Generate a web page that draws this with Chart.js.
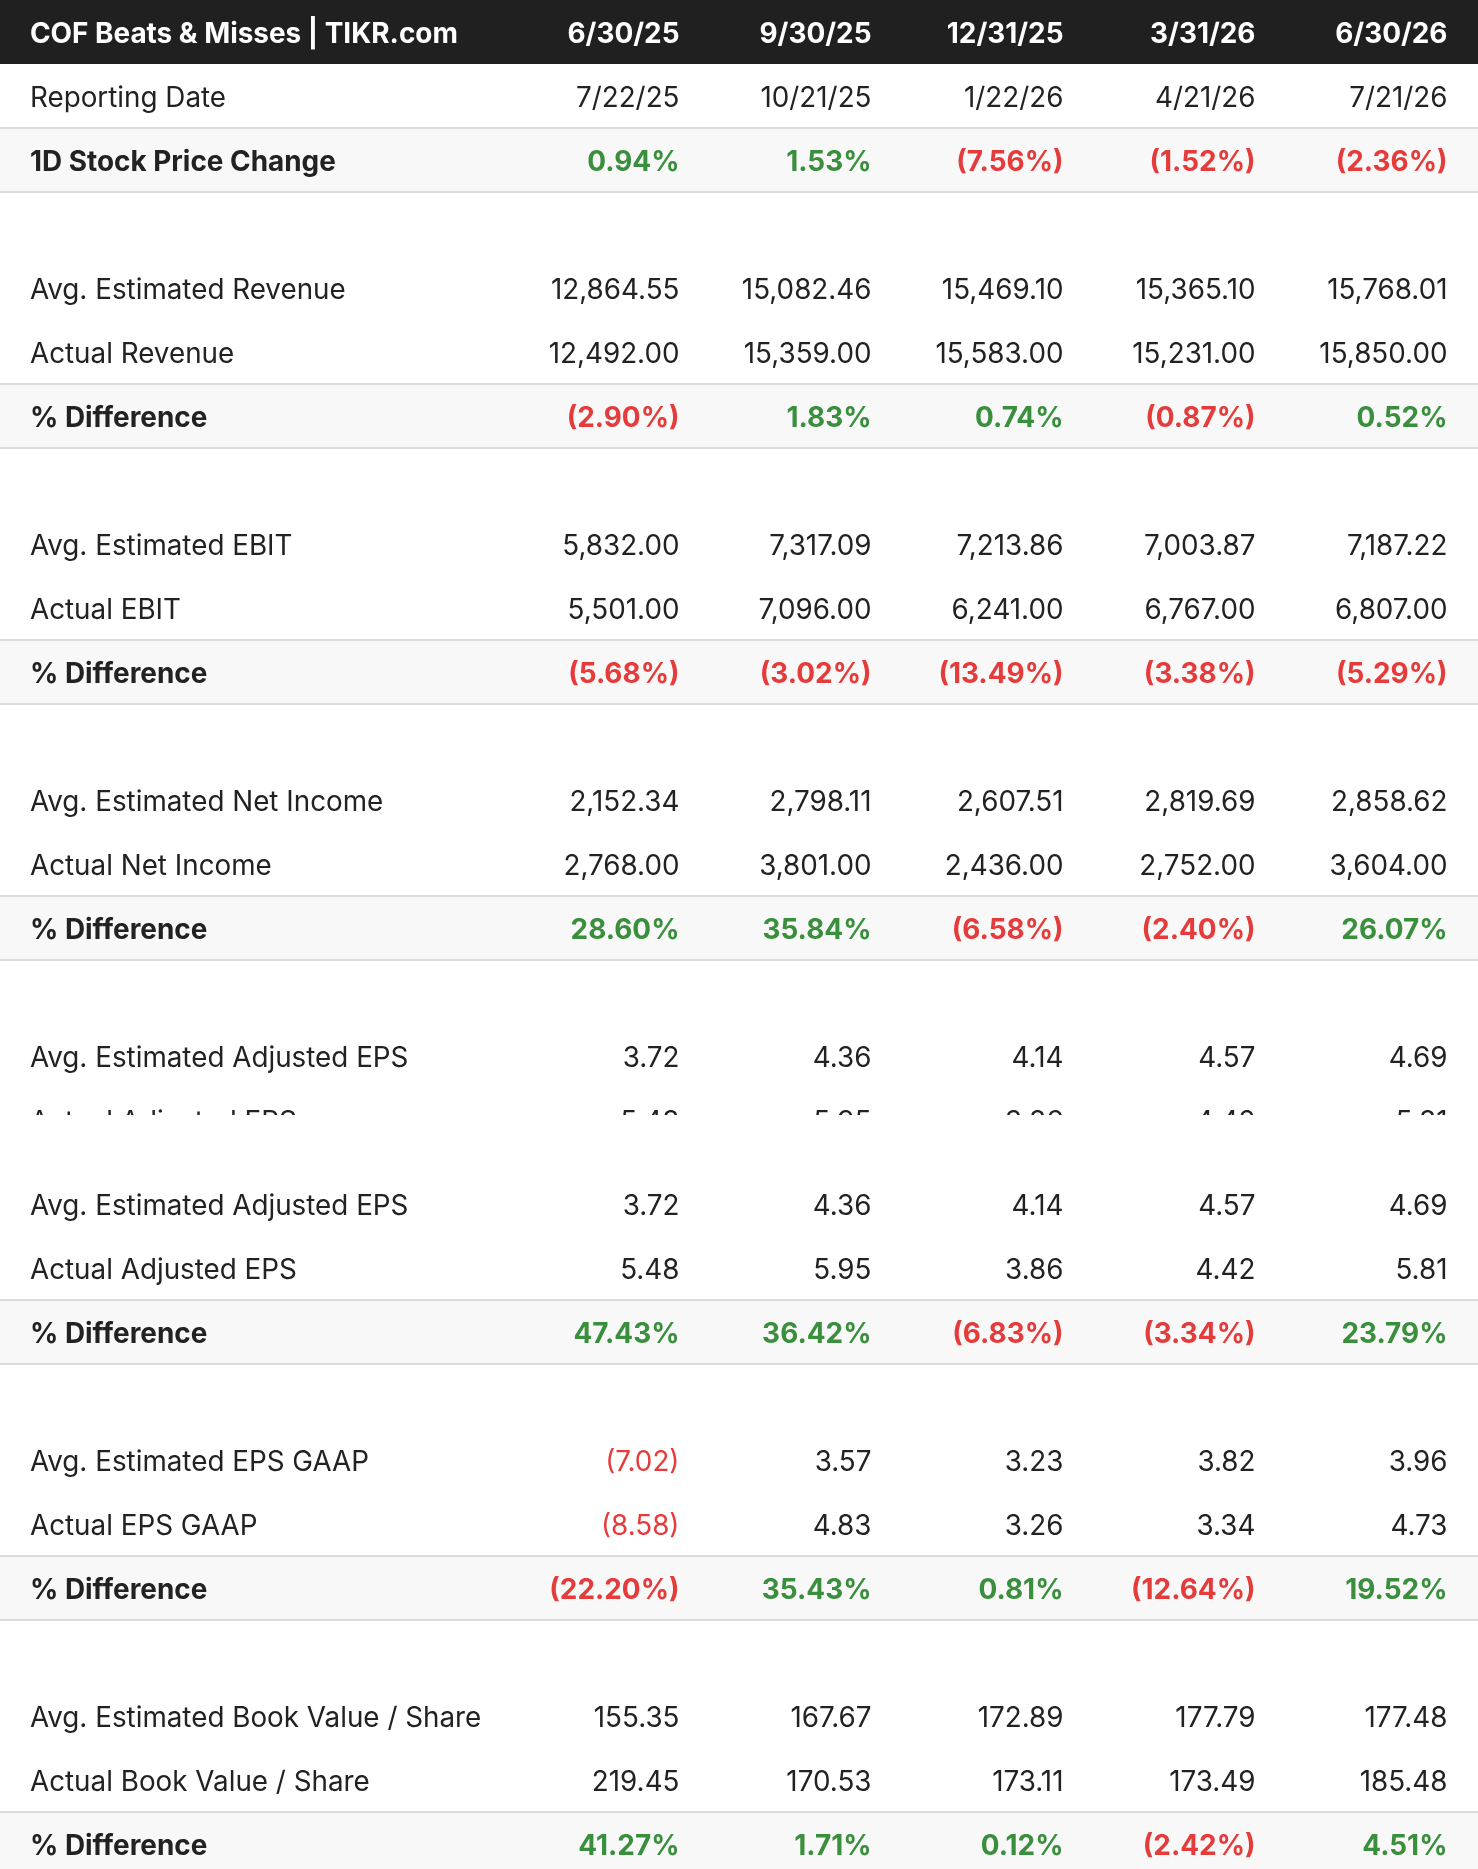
<!DOCTYPE html>
<html>
<head>
<meta charset="utf-8">
<title>COF Beats & Misses</title>
<script src="https://cdn.jsdelivr.net/npm/chart.js@4.4.1/dist/chart.umd.min.js"></script>
<style>
  html, body { margin: 0; padding: 0; background: #fff; }
  canvas { display: block; }
</style>
</head>
<body>
<canvas id="topPart" width="1478" height="1115"></canvas>
<canvas id="bottomPart" width="1478" height="754"></canvas>
<script>
const title = "COF Beats & Misses | TIKR.com";
const periods = ["6/30/25", "9/30/25", "12/31/25", "3/31/26", "6/30/26"];
const reportingDates = ["7/22/25", "10/21/25", "1/22/26", "4/21/26", "7/21/26"];
const stockChange = [0.94, 1.53, -7.56, -1.52, -2.36];

const estRevenue = [12864.55, 15082.46, 15469.10, 15365.10, 15768.01];
const actRevenue = [12492.00, 15359.00, 15583.00, 15231.00, 15850.00];
const revenueDiff = [-2.90, 1.83, 0.74, -0.87, 0.52];

const estEbit = [5832.00, 7317.09, 7213.86, 7003.87, 7187.22];
const actEbit = [5501.00, 7096.00, 6241.00, 6767.00, 6807.00];
const ebitDiff = [-5.68, -3.02, -13.49, -3.38, -5.29];

const estNetIncome = [2152.34, 2798.11, 2607.51, 2819.69, 2858.62];
const actNetIncome = [2768.00, 3801.00, 2436.00, 2752.00, 3604.00];
const netIncomeDiff = [28.60, 35.84, -6.58, -2.40, 26.07];

const estAdjEps = [3.72, 4.36, 4.14, 4.57, 4.69];
const actAdjEps = [5.48, 5.95, 3.86, 4.42, 5.81];
const adjEpsDiff = [47.43, 36.42, -6.83, -3.34, 23.79];

const estGaapEps = [-7.02, 3.57, 3.23, 3.82, 3.96];
const actGaapEps = [-8.58, 4.83, 3.26, 3.34, 4.73];
const gaapEpsDiff = [-22.20, 35.43, 0.81, -12.64, 19.52];

const estBookValue = [155.35, 167.67, 172.89, 177.79, 177.48];
const actBookValue = [219.45, 170.53, 173.11, 173.49, 185.48];
const bookValueDiff = [41.27, 1.71, 0.12, -2.42, 4.51];

const GREEN = "#3a8f3d";
const RED = "#e53b3b";
const INK = "#222222";
const FONT = "Inter, 'Noto Sans', sans-serif";

// table rows, top to bottom (row index = y value)
const rows = [
  {kind: "header", label: title, values: periods},
  {kind: "text", label: "Reporting Date", values: reportingDates},
  {kind: "pct", label: "1D Stock Price Change", values: stockChange},
  {kind: "blank"},
  {kind: "num", label: "Avg. Estimated Revenue", values: estRevenue},
  {kind: "num", label: "Actual Revenue", values: actRevenue},
  {kind: "pct", label: "% Difference", values: revenueDiff},
  {kind: "blank"},
  {kind: "num", label: "Avg. Estimated EBIT", values: estEbit},
  {kind: "num", label: "Actual EBIT", values: actEbit},
  {kind: "pct", label: "% Difference", values: ebitDiff},
  {kind: "blank"},
  {kind: "num", label: "Avg. Estimated Net Income", values: estNetIncome},
  {kind: "num", label: "Actual Net Income", values: actNetIncome},
  {kind: "pct", label: "% Difference", values: netIncomeDiff},
  {kind: "blank"},
  {kind: "num", label: "Avg. Estimated Adjusted EPS", values: estAdjEps},
  {kind: "num", label: "Actual Adjusted EPS", values: actAdjEps},
  {kind: "pct", label: "% Difference", values: adjEpsDiff},
  {kind: "blank"},
  {kind: "num", label: "Avg. Estimated EPS GAAP", values: estGaapEps},
  {kind: "num", label: "Actual EPS GAAP", values: actGaapEps},
  {kind: "pct", label: "% Difference", values: gaapEpsDiff},
  {kind: "blank"},
  {kind: "num", label: "Avg. Estimated Book Value / Share", values: estBookValue},
  {kind: "num", label: "Actual Book Value / Share", values: actBookValue},
  {kind: "pct", label: "% Difference", values: bookValueDiff}
];

function fmtNum(v){
  const s = Math.abs(v).toLocaleString("en-US", {minimumFractionDigits: 2, maximumFractionDigits: 2});
  return v < 0 ? "(" + s + ")" : s;
}

function fmtPct(v){
  const s = Math.abs(v).toFixed(2) + "%";
  return v < 0 ? "(" + s + ")" : s;
}

const LABEL_COL = -2.383; // x value of the label column (value columns are 1..5, right edge)

function buildCells(){
  const cells = [];
  rows.forEach((row, r) => {
    if (row.kind === "blank") return;
    const bold = row.kind === "header" || row.kind === "pct";
    cells.push({
      x: LABEL_COL, y: r, text: row.label, align: "left", bold,
      color: row.kind === "header" ? "#ffffff" : INK
    });
    row.values.forEach((v, c) => {
      let text = v, color = INK;
      if (row.kind === "header") color = "#ffffff";
      if (row.kind === "num") { text = fmtNum(v); if (v < 0) color = RED; }
      if (row.kind === "pct") { text = fmtPct(v); color = v < 0 ? RED : GREEN; }
      cells.push({x: c + 1, y: r, text, align: "right", bold, color});
    });
  });
  return cells;
}

const tablePlugin = {
  id: "tablePlugin",
  beforeDatasetsDraw(chart){
    const {ctx, scales: {x, y}} = chart;
    const rowH = Math.abs(y.getPixelForValue(1) - y.getPixelForValue(0));
    const left = x.left, right = x.right;
    ctx.save();
    ctx.fillStyle = "#ffffff";
    ctx.fillRect(0, 0, chart.width, chart.height);
    rows.forEach((row, r) => {
      const top = y.getPixelForValue(r) - rowH / 2;
      if (row.kind === "header") {
        ctx.fillStyle = "#202020";
        ctx.fillRect(left, top, right - left, rowH);
      }
      if (row.kind === "pct") {
        ctx.fillStyle = "#f8f8f8";
        ctx.fillRect(left, top, right - left, rowH);
        ctx.fillStyle = "#dcdcdc";
        ctx.fillRect(left, top - 1, right - left, 2);
        ctx.fillRect(left, top + rowH - 1, right - left, 2);
      }
    });
    ctx.restore();
  },
  afterDatasetsDraw(chart){
    const {ctx} = chart;
    const meta = chart.getDatasetMeta(0);
    ctx.save();
    ctx.textBaseline = "middle";
    meta.data.forEach((pt, i) => {
      const cell = chart.data.datasets[0].data[i];
      ctx.font = cell.bold ? "700 27.9px " + FONT : "400 27.8px " + FONT;
      ctx.fillStyle = cell.color;
      ctx.textAlign = cell.align;
      ctx.fillText(cell.text, pt.x, pt.y + 2.5);
    });
    ctx.restore();
  }
};

function makeTable(canvasId, yMin, yMax){
  return new Chart(document.getElementById(canvasId), {
    type: "scatter",
    data: {
      datasets: [{
        data: buildCells(),
        pointRadius: 0,
        pointHoverRadius: 0
      }]
    },
    options: {
      responsive: false,
      animation: false,
      events: [],
      layout: {padding: 0},
      plugins: {legend: {display: false}, tooltip: {enabled: false}},
      scales: {
        x: {type: "linear", min: -2.539, max: 5.159, display: false},
        y: {type: "linear", reverse: true, min: yMin, max: yMax, display: false}
      }
    },
    plugins: [tablePlugin]
  });
}

// the picture is two captures of the same table: rows 0-17 (cut), then rows from 14.6 on
makeTable("topPart", -0.5, -0.5 + 1115 / 64);
makeTable("bottomPart", 16 - 89 / 64, 16 - 89 / 64 + 754 / 64);
</script>
</body>
</html>
